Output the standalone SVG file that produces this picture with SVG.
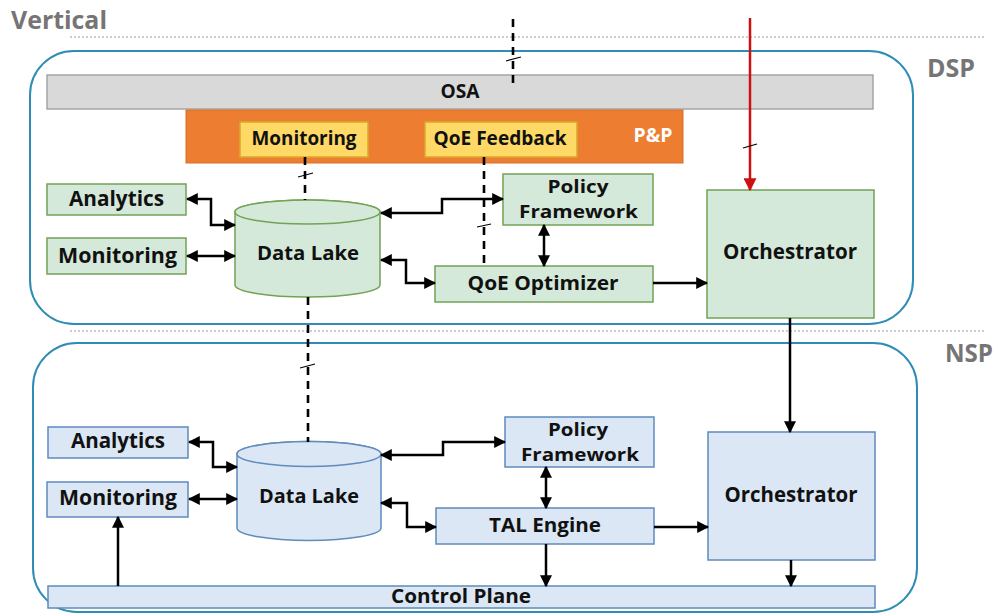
<svg xmlns="http://www.w3.org/2000/svg" width="995" height="615" viewBox="0 0 995 615">
  <defs>
    <style>
      .t { font-family: "Open Sans", "Liberation Sans", sans-serif; font-weight: bold; fill: #111; text-anchor: middle; }
      .lbl { font-family: "Open Sans", "Liberation Sans", sans-serif; font-weight: bold; fill: #767474; }
      .frame { fill: none; stroke: #2f8db5; stroke-width: 2; }
      .sep { fill: none; stroke: #9a9a9a; stroke-width: 1.2; stroke-dasharray: 2 2; }
      .g { fill: #d4e9d9; stroke: #72a356; stroke-width: 1.5; }
      .b { fill: #dbe7f4; stroke: #5f8bbd; stroke-width: 1.5; }
      .y { fill: #ffd966; stroke: #d9a92a; stroke-width: 1.5; }
      .link { fill: none; stroke: #000; stroke-width: 2.5; }
      .both { marker-start: url(#arr); marker-end: url(#arr); }
      .one { marker-end: url(#arr); }
      .dash { fill: none; stroke: #000; stroke-width: 2.6; stroke-dasharray: 8 6; }
      .tick { fill: none; stroke: #000; stroke-width: 1.2; }
    </style>
    <marker id="arr" viewBox="0 0 10 10" refX="9" refY="5" markerWidth="12" markerHeight="12" markerUnits="userSpaceOnUse" orient="auto-start-reverse">
      <path d="M0,0 L10,5 L0,10 z" fill="#000"/>
    </marker>
    <marker id="arrRed" viewBox="0 0 10 10" refX="9" refY="5" markerWidth="13" markerHeight="13" markerUnits="userSpaceOnUse" orient="auto">
      <path d="M0,0 L10,5 L0,10 z" fill="#cc1111"/>
    </marker>
  </defs>

  <!-- region labels and separators -->
  <text class="lbl" x="11" y="29" font-size="25" textLength="96" lengthAdjust="spacingAndGlyphs">Vertical</text>
  <line class="sep" x1="70" y1="37" x2="985" y2="37"/>
  <line class="sep" x1="70" y1="331" x2="985" y2="331"/>
  <text class="lbl" x="927" y="77" font-size="25" textLength="48" lengthAdjust="spacingAndGlyphs">DSP</text>
  <text class="lbl" x="945" y="362" font-size="25" textLength="48" lengthAdjust="spacingAndGlyphs">NSP</text>

  <!-- DSP domain -->
  <rect id="dsp-frame" class="frame" x="30" y="51" width="883" height="273" rx="44"/>

  <g id="osa">
    <rect x="47" y="75" width="826" height="34" fill="#d9d9d9" stroke="#a5a5a5" stroke-width="1.5"/>
    <text class="t" x="460" y="98" font-size="19" textLength="39" lengthAdjust="spacingAndGlyphs">OSA</text>
  </g>

  <g id="pnp">
    <rect x="186" y="110" width="497" height="53" fill="#ed7d31" stroke="#d86e28" stroke-width="1"/>
    <text x="653" y="142" font-family="'Open Sans', 'Liberation Sans', sans-serif" font-weight="bold" font-size="19" fill="#fff" text-anchor="middle" textLength="39" lengthAdjust="spacingAndGlyphs">P&amp;P</text>
  </g>

  <g id="pnp-monitoring">
    <rect class="y" x="240" y="122" width="128" height="35"/>
    <text class="t" x="304" y="145" font-size="19" textLength="105" lengthAdjust="spacingAndGlyphs">Monitoring</text>
  </g>

  <g id="pnp-qoe-feedback">
    <rect class="y" x="425" y="122" width="152" height="35"/>
    <text class="t" x="500" y="145" font-size="19" textLength="133" lengthAdjust="spacingAndGlyphs">QoE Feedback</text>
  </g>

  <g id="dsp-analytics">
    <rect class="g" x="47" y="184" width="139" height="31"/>
    <text class="t" x="116.5" y="206" font-size="21" textLength="95" lengthAdjust="spacingAndGlyphs">Analytics</text>
  </g>

  <g id="dsp-monitoring">
    <rect class="g" x="47" y="238" width="139" height="36"/>
    <text class="t" x="117.5" y="263" font-size="21" textLength="119" lengthAdjust="spacingAndGlyphs">Monitoring</text>
  </g>

  <g id="dsp-datalake">
    <path class="g" d="M235,212 V285 A72.5,12 0 0 0 380,285 V212 A72.5,12 0 0 0 235,212 Z"/>
    <ellipse class="g" cx="307.5" cy="212" rx="72.5" ry="12"/>
    <text class="t" x="308" y="260" font-size="20" textLength="102" lengthAdjust="spacingAndGlyphs">Data Lake</text>
  </g>

  <g id="dsp-policy">
    <rect class="g" x="503" y="174" width="150" height="51"/>
    <text class="t" x="578" y="193" font-size="18.5" textLength="61" lengthAdjust="spacingAndGlyphs">Policy</text>
    <text class="t" x="578.5" y="218" font-size="18.5" textLength="119" lengthAdjust="spacingAndGlyphs">Framework</text>
  </g>

  <g id="dsp-qoe-optimizer">
    <rect class="g" x="435" y="266" width="218" height="36"/>
    <text class="t" x="543" y="290" font-size="20" textLength="151" lengthAdjust="spacingAndGlyphs">QoE Optimizer</text>
  </g>

  <g id="dsp-orchestrator">
    <rect class="g" x="707" y="190" width="167" height="128"/>
    <text class="t" x="790" y="259" font-size="21" textLength="134" lengthAdjust="spacingAndGlyphs">Orchestrator</text>
  </g>

  <!-- NSP domain -->
  <rect id="nsp-frame" class="frame" x="33" y="343" width="884" height="269" rx="44"/>

  <g id="nsp-analytics">
    <rect class="b" x="48" y="427" width="140" height="31"/>
    <text class="t" x="118" y="448" font-size="21" textLength="94" lengthAdjust="spacingAndGlyphs">Analytics</text>
  </g>

  <g id="nsp-monitoring">
    <rect class="b" x="47" y="482" width="141" height="35"/>
    <text class="t" x="118" y="505" font-size="21" textLength="118" lengthAdjust="spacingAndGlyphs">Monitoring</text>
  </g>

  <g id="nsp-datalake">
    <path class="b" d="M237,454 V528 A72,12.5 0 0 0 381,528 V454 A72,12.5 0 0 0 237,454 Z"/>
    <ellipse class="b" cx="309" cy="454" rx="72" ry="12.5"/>
    <text class="t" x="309" y="503" font-size="20" textLength="100" lengthAdjust="spacingAndGlyphs">Data Lake</text>
  </g>

  <g id="nsp-policy">
    <rect class="b" x="505" y="417" width="149" height="50"/>
    <text class="t" x="578" y="436" font-size="18.5" textLength="60" lengthAdjust="spacingAndGlyphs">Policy</text>
    <text class="t" x="580" y="461" font-size="18.5" textLength="118" lengthAdjust="spacingAndGlyphs">Framework</text>
  </g>

  <g id="nsp-tal">
    <rect class="b" x="436" y="508" width="218" height="36"/>
    <text class="t" x="545" y="532" font-size="20" textLength="112" lengthAdjust="spacingAndGlyphs">TAL Engine</text>
  </g>

  <g id="nsp-orchestrator">
    <rect class="b" x="708" y="432" width="167" height="128"/>
    <text class="t" x="791" y="502" font-size="21" textLength="133" lengthAdjust="spacingAndGlyphs">Orchestrator</text>
  </g>

  <g id="control-plane">
    <rect class="b" x="48" y="586" width="827" height="22"/>
    <text class="t" x="461" y="603" font-size="20" textLength="140" lengthAdjust="spacingAndGlyphs">Control Plane</text>
  </g>

  <!-- connectors -->
  <g id="connectors">
    <!-- DSP -->
    <path class="link both" d="M187,199 H211 V225 H235"/>
    <path class="link both" d="M187,256 H235"/>
    <path class="link both" d="M381,213 H442 V199 H503"/>
    <path class="link both" d="M381,260 H406 V283 H435"/>
    <path class="link both" d="M544,225 V266"/>
    <path class="link one" d="M653,283 H707"/>
    <path class="link one" d="M790,318 V432"/>
    <path fill="none" stroke="#cc1111" stroke-width="2.5" marker-end="url(#arrRed)" d="M750,18 V190"/>

    <!-- dashed interfaces -->
    <path class="dash" d="M513,19 V87"/>
    <path class="dash" d="M305,157 V200"/>
    <path class="dash" d="M484,157 V266"/>
    <path class="dash" d="M308,297 V442"/>

    <!-- interface ticks -->
    <line class="tick" x1="506" y1="61" x2="521" y2="57"/>
    <line class="tick" x1="743" y1="148" x2="757" y2="144"/>
    <line class="tick" x1="298" y1="177" x2="313" y2="173"/>
    <line class="tick" x1="477" y1="227" x2="491" y2="224"/>
    <line class="tick" x1="300" y1="368" x2="315" y2="364"/>

    <!-- NSP -->
    <path class="link both" d="M189,442 H213 V467 H237"/>
    <path class="link both" d="M189,499 H237"/>
    <path class="link one" d="M118,586 V517"/>
    <path class="link both" d="M381,455 H443 V442 H505"/>
    <path class="link both" d="M381,503 H407 V527 H436"/>
    <path class="link both" d="M546,467 V508"/>
    <path class="link one" d="M654,527 H708"/>
    <path class="link one" d="M546,544 V586"/>
    <path class="link one" d="M791,560 V586"/>
  </g>
</svg>
